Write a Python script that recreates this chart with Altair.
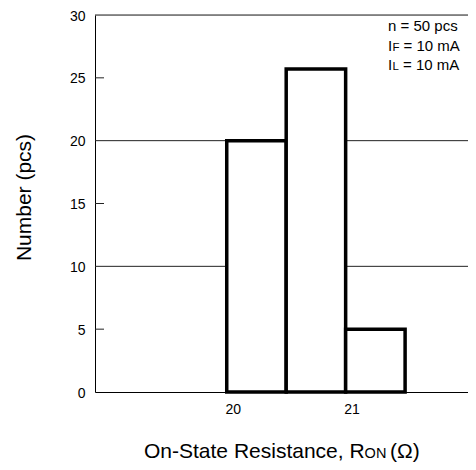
import altair as alt
import pandas as pd

# ---- data ----
bin_start = [19.95, 20.45, 20.95]
bin_end = [20.45, 20.95, 21.45]
counts = [20, 25.7, 5]

grid_levels = [10, 20, 30]
minor_ticks = [5, 15, 25]
y_tick_values = [0, 5, 10, 15, 20, 25, 30]
x_tick_values = [20, 21]

FONT = "Liberation Sans"
W, H = 373, 377
LEFT, TOP = 95, 15  # page position of plot origin

bars_df = pd.DataFrame({"start": bin_start, "end": bin_end, "count": counts})
grid_df = pd.DataFrame({"y": grid_levels})
ticks_df = pd.DataFrame({"y": minor_ticks})

xscale = alt.Scale(domain=[18.842, 21.979], nice=False, zero=False)
yscale = alt.Scale(domain=[0, 30], nice=False)

xaxis = alt.Axis(values=x_tick_values, title="", grid=False, ticks=False, tickSize=0,
                 labelFontSize=14, labelFont=FONT, labelColor="black", labelPadding=10,
                 domainColor="black", domainWidth=1, format="d")
yaxis = alt.Axis(values=y_tick_values, title="Number (pcs)", grid=False, ticks=False, tickSize=0,
                 labelFontSize=14, labelFont=FONT, labelColor="black", labelPadding=10,
                 labelOffset=1,
                 domainColor="black", domainWidth=1,
                 titleFont=FONT, titleFontSize=21, titleFontWeight="normal", titleColor="black",
                 titleAngle=270, titleAlign="center", titleBaseline="alphabetic",
                 titleX=30 - LEFT, titleY=197 - TOP)

grid = alt.Chart(grid_df).mark_rule(color="#222", strokeWidth=1).encode(
    y=alt.Y("y:Q", scale=yscale, axis=yaxis),
    x=alt.value(0), x2=alt.value(W),
)

minor = alt.Chart(ticks_df).mark_rule(color="#222", strokeWidth=1).encode(
    y=alt.Y("y:Q", scale=yscale),
    x=alt.value(0), x2=alt.value(9),
)

bars = alt.Chart(bars_df).mark_bar(fill="white", stroke="black", strokeWidth=3.5).encode(
    x=alt.X("start:Q", scale=xscale, axis=xaxis),
    x2="end:Q",
    y=alt.Y("count:Q", scale=yscale),
    y2=alt.datum(0),
)


def txt(s, px, py, size):
    return alt.Chart(alt.Data(values=[{}])).mark_text(
        text=s, align="left", baseline="alphabetic", fontSize=size, font=FONT, color="black"
    ).encode(x=alt.value(px - LEFT), y=alt.value(py - TOP))


texts = [
    txt("n = 50 pcs", 388, 31, 15),
    txt("I", 388, 50.5, 15),
    txt("F", 392.5, 50.5, 11.5),
    txt("= 10 mA", 403.5, 50.5, 15),
    txt("I", 388, 70, 15),
    txt("L", 392.5, 70, 11.5),
    txt("= 10 mA", 403, 70, 15),
    txt("On-State Resistance, R", 144, 458, 21),
    txt("ON", 364.6, 458, 14.5),
    txt("(\u03a9)", 390, 458, 21),
]

chart = alt.layer(grid, minor, bars, *texts).properties(
    width=W, height=H,
    autosize=alt.AutoSizeParams(type="none"),
    padding={"left": LEFT - 8, "top": TOP - 8, "right": 0, "bottom": 72},
).configure_view(strokeWidth=0).configure(background="white")

chart.save("out.html", embed_options={"renderer": "svg", "actions": False})
